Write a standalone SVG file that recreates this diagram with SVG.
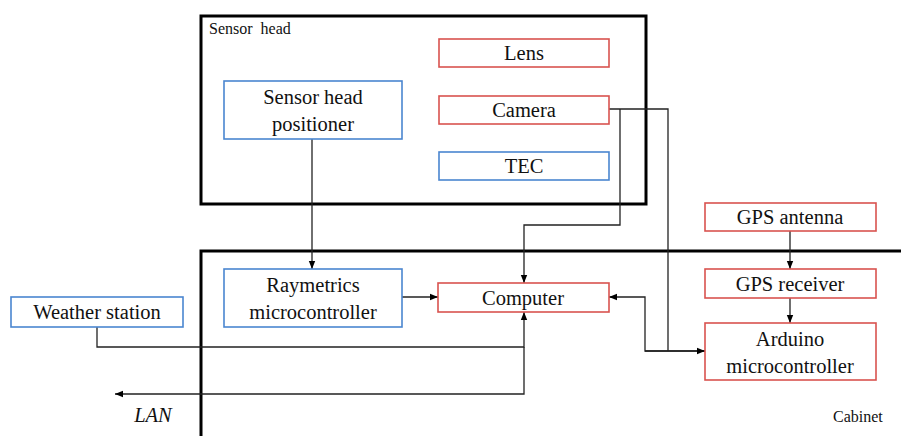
<svg xmlns="http://www.w3.org/2000/svg" width="901" height="436" viewBox="0 0 901 436">
  <style>
    .bg { fill: #ffffff; }
    .frame { fill: none; stroke: #000; stroke-width: 3; }
    .red { fill: #fff; stroke: #d9534f; stroke-width: 1.6; }
    .blue { fill: #fff; stroke: #4a86d0; stroke-width: 1.6; }
    .lbl { font-size: 20.5px; fill: #111; text-anchor: middle; }
    .cap { font-size: 16px; fill: #111; }
    .wire { fill: none; stroke: #222; stroke-width: 1.3; }
  </style>
  <defs>
    <marker id="arr" viewBox="0 0 10 10" refX="10" refY="5" markerWidth="8" markerHeight="8" markerUnits="userSpaceOnUse" orient="auto">
      <path d="M0,1 L10,5 L0,9 z" fill="#000"/>
    </marker>
  </defs>
  <rect class="bg" x="0" y="0" width="901" height="436"/>

  <g font-family="Liberation Serif, DejaVu Serif, serif">
  <!-- enclosures -->
  <g id="sensor-head">
    <rect class="frame" x="201" y="16" width="445" height="188"/>
    <text class="cap" x="209" y="34" word-spacing="4">Sensor head</text>
  </g>
  <g id="cabinet">
    <path class="frame" d="M201,436 V251 H901"/>
    <text class="cap" x="833" y="422">Cabinet</text>
  </g>

  <!-- connectors -->
  <g id="connectors">
    <path class="wire" d="M312,139 V269" marker-end="url(#arr)"/>
    <path class="wire" d="M609,109 H668 V351"/>
    <path class="wire" d="M620,109 V225 H524 V283" marker-end="url(#arr)"/>
    <path class="wire" d="M402,297 H438" marker-end="url(#arr)"/>
    <path class="wire" d="M705,351 H645 V297 H609" marker-end="url(#arr)"/>
    <path class="wire" d="M645,351 H705" marker-end="url(#arr)"/>
    <path class="wire" d="M790,231 V269" marker-end="url(#arr)"/>
    <path class="wire" d="M790,298 V323" marker-end="url(#arr)"/>
    <path class="wire" d="M97,327 V347 H524 V312" marker-end="url(#arr)"/>
    <path class="wire" d="M524,347 V394 H115" marker-end="url(#arr)"/>
  </g>

  <!-- nodes -->
  <g id="lens">
    <rect class="red" x="439" y="39" width="170" height="28"/>
    <text class="lbl" x="524" y="60">Lens</text>
  </g>
  <g id="camera">
    <rect class="red" x="439" y="96" width="170" height="28"/>
    <text class="lbl" x="524" y="117">Camera</text>
  </g>
  <g id="tec">
    <rect class="blue" x="439" y="152" width="170" height="28"/>
    <text class="lbl" x="524" y="173">TEC</text>
  </g>
  <g id="positioner">
    <rect class="blue" x="224" y="81" width="178" height="58"/>
    <text class="lbl" x="313" y="104">Sensor head</text>
    <text class="lbl" x="313" y="131">positioner</text>
  </g>
  <g id="raymetrics">
    <rect class="blue" x="224" y="269" width="178" height="58"/>
    <text class="lbl" x="313" y="292">Raymetrics</text>
    <text class="lbl" x="313" y="319">microcontroller</text>
  </g>
  <g id="computer">
    <rect class="red" x="438" y="283" width="171" height="29"/>
    <text class="lbl" x="523" y="305">Computer</text>
  </g>
  <g id="weather">
    <rect class="blue" x="11" y="297" width="172" height="30"/>
    <text class="lbl" x="97" y="319">Weather station</text>
  </g>
  <g id="gps-antenna">
    <rect class="red" x="705" y="203" width="171" height="28"/>
    <text class="lbl" x="790" y="224">GPS antenna</text>
  </g>
  <g id="gps-receiver">
    <rect class="red" x="705" y="269" width="171" height="29"/>
    <text class="lbl" x="790" y="291">GPS receiver</text>
  </g>
  <g id="arduino">
    <rect class="red" x="705" y="323" width="171" height="57"/>
    <text class="lbl" x="790" y="346">Arduino</text>
    <text class="lbl" x="790" y="373">microcontroller</text>
  </g>
  <g id="lan">
    <text class="lbl" x="153" y="422" font-style="italic">LAN</text>
  </g>
  </g>
</svg>
